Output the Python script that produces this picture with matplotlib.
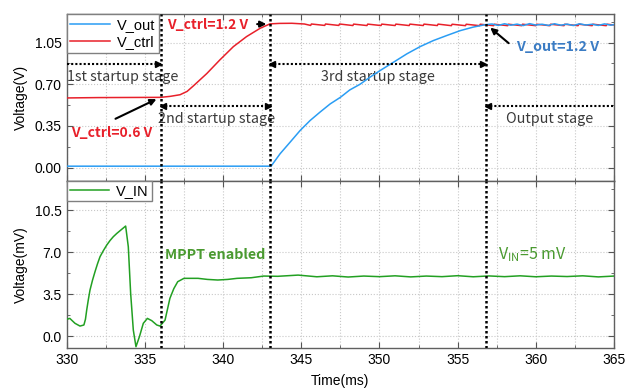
import numpy as np
import matplotlib
matplotlib.use("Agg")
import matplotlib.pyplot as plt
from matplotlib.ticker import MultipleLocator, FormatStrFormatter

plt.rcParams['font.family'] = ['Liberation Sans', 'DejaVu Sans']

## data ##
t_ctrl = [330.0, 332.0, 334.0, 336.0, 336.6, 337.25, 337.7, 338.1, 338.96, 339.8, 340.66,
          341.5, 342.37, 343.0, 343.6, 344.4, 345.2, 345.6,
          345.65, 346.5, 346.55, 347.4, 347.45, 348.3, 348.35, 349.2, 349.25, 350.1,
          350.15, 351.0, 351.05, 351.9, 351.95, 352.8, 352.85, 353.7, 353.75, 354.6,
          354.65, 355.5, 355.55, 356.4, 356.45, 357.3, 357.35, 358.2, 358.25, 359.1,
          359.15, 360.0, 360.05, 360.9, 360.95, 361.8, 361.85, 362.7, 362.75, 363.6,
          363.65, 364.5, 364.55, 365.0]
v_ctrl = [0.585, 0.588, 0.589, 0.590, 0.598, 0.612, 0.640, 0.686, 0.790, 0.905, 1.016,
          1.100, 1.170, 1.207, 1.211, 1.212, 1.206, 1.194,
          1.206, 1.194, 1.206, 1.194, 1.206, 1.193, 1.205, 1.193, 1.205, 1.193,
          1.205, 1.193, 1.205, 1.193, 1.205, 1.193, 1.205, 1.193, 1.205, 1.192,
          1.204, 1.192, 1.204, 1.192, 1.204, 1.192, 1.204, 1.192, 1.204, 1.192,
          1.204, 1.192, 1.204, 1.192, 1.204, 1.192, 1.204, 1.192, 1.204, 1.192,
          1.204, 1.192, 1.204, 1.198]

t_out = [330.0, 343.07, 343.65, 344.29, 344.93, 345.57, 346.2, 346.85, 347.5, 348.1,
         348.76, 349.4, 350.04, 350.9, 351.75, 352.6, 353.45, 354.3, 355.16, 356.0,
         356.76, 357.2, 357.6, 358.0, 358.4, 358.8, 359.2, 359.6, 360.0, 360.4,
         360.8, 361.2, 361.6, 362.0, 362.4, 362.8, 363.2, 363.6, 364.0, 364.4,
         364.8, 365.0]
v_out = [0.012, 0.012, 0.117, 0.214, 0.312, 0.396, 0.466, 0.535, 0.590, 0.652,
         0.700, 0.760, 0.815, 0.885, 0.955, 1.016, 1.067, 1.109, 1.150, 1.180,
         1.200, 1.206, 1.194, 1.208, 1.196, 1.205, 1.193, 1.209, 1.197, 1.204,
         1.194, 1.208, 1.196, 1.205, 1.193, 1.208, 1.197, 1.204, 1.194, 1.207,
         1.196, 1.201]

t_in = [330.0, 330.2, 330.53, 330.85, 331.1, 331.2, 331.28, 331.38, 331.49, 331.65,
        331.81, 331.97, 332.13, 332.35, 332.56, 332.77, 332.98, 333.2, 333.41, 333.77,
        333.94, 334.09, 334.26, 334.43, 334.65, 334.9, 335.16, 335.44, 335.76, 335.97,
        336.29, 336.6, 336.85, 337.1, 337.5, 338.4, 339.0, 339.66,
        340.3, 340.9, 341.8, 342.6, 343.5, 344.8, 346.0, 347.0, 348.0, 349.0,
        350.0, 351.0, 352.0, 353.0, 354.0, 355.0, 356.0, 357.0, 358.0, 359.0,
        360.0, 361.0, 362.0, 363.0, 364.0, 365.0]
v_in = [1.39, 1.47, 1.06, 0.83, 0.92, 1.40, 2.17, 3.00, 3.83, 4.65,
        5.36, 6.02, 6.61, 7.13, 7.58, 7.96, 8.28, 8.55, 8.78, 9.17,
        7.44, 3.56, 0.50, -0.89, -0.06, 1.06, 1.47, 1.28, 0.92, 0.83,
        1.33, 3.14, 3.95, 4.53, 4.81, 4.81, 4.72, 4.67,
        4.72, 4.81, 4.86, 5.00, 4.98, 5.08, 4.94, 5.02, 4.92, 5.00,
        4.95, 5.02, 4.93, 5.00, 4.95, 5.03, 4.94, 5.01, 4.95, 5.02,
        4.94, 5.00, 4.96, 5.02, 4.93, 5.00]

stage_t = [336.0, 343.0, 356.8]

c_out = '#2a9df4'
c_ctrl = '#e8202a'
c_in = '#22a022'
c_txt_green = '#4a9a30'
c_txt_blue = '#3b7cc4'
c_stage = '#3a3a3a'
cjk = ['Noto Sans CJK SC', 'DejaVu Sans']

fig = plt.figure(figsize=(6.28, 3.92), dpi=100)
ax1 = fig.add_axes([0.1062, 0.539, 0.8715, 0.4253])
ax2 = fig.add_axes([0.1062, 0.1122, 0.8715, 0.4268], sharex=ax1)

ax1.plot(t_ctrl, v_ctrl, color=c_ctrl, lw=1.1, label='V_ctrl', zorder=3)
ax1.plot(t_out, v_out, color=c_out, lw=1.1, label='V_out', zorder=4)
ax2.plot(t_in, v_in, color=c_in, lw=1.1, label='V_IN', zorder=3)

for ax in (ax1, ax2):
    for t in stage_t:
        ax.axvline(t, color='black', ls=(0, (1, 1)), lw=1.8, zorder=5)
    ax.set_xlim(330, 365)
    ax.xaxis.set_major_locator(MultipleLocator(5))
    ax.xaxis.set_minor_locator(MultipleLocator(2.5))
    ax.tick_params(which='both', direction='in', top=True, right=True, labelsize=10,
                   color='#555555')
    ax.tick_params(which='major', length=4)
    ax.tick_params(which='minor', length=2.5)
    ax.grid(True, which='major', axis='y', ls=':', color='#c8c8c8', lw=0.8)
    ax.grid(True, which='both', axis='x', ls=':', color='#c8c8c8', lw=0.8)
    for s in ax.spines.values():
        s.set_color('#606060')
        s.set_linewidth(1.0)

ax1.set_ylim(-0.11, 1.29)
ax1.yaxis.set_major_locator(MultipleLocator(0.35))
ax1.yaxis.set_minor_locator(MultipleLocator(0.175))
ax1.yaxis.set_major_formatter(FormatStrFormatter('%.2f'))
ax1.tick_params(labelbottom=False)
ax1.set_ylabel('Voltage(V)', fontsize=10, labelpad=5)

ax2.set_ylim(-1.0, 12.95)
ax2.yaxis.set_major_locator(MultipleLocator(3.5))
ax2.yaxis.set_minor_locator(MultipleLocator(1.75))
ax2.yaxis.set_major_formatter(FormatStrFormatter('%.1f'))
ax2.set_ylabel('Voltage(mV)', fontsize=10, labelpad=5)
ax2.set_xlabel('Time(ms)', fontsize=10, labelpad=5)

h, l = ax1.get_legend_handles_labels()
ax1.legend(h[::-1], l[::-1], loc='upper left', borderaxespad=0, fancybox=False,
           edgecolor='#808080', framealpha=1, fontsize=10.5, handlelength=2.7,
           borderpad=0.25, labelspacing=0.25, handletextpad=0.5)
ax2.legend(loc='upper left', borderaxespad=0, fancybox=False, edgecolor='#808080',
           framealpha=1, fontsize=10.5, handlelength=2.7, borderpad=0.2,
           handletextpad=0.5)

# stage arrows (dotted line + triangle head)
def stage_arrow(ax, x0, x1, y, left_head, right_head):
    ax.plot([x0, x1], [y, y], color='black', ls=(0, (1, 1)), lw=1.5, zorder=6)
    if left_head:
        ax.plot(x0 + 0.15, y, marker='<', color='black', ms=4, zorder=6)
    if right_head:
        ax.plot(x1 - 0.15, y, marker='>', color='black', ms=4, zorder=6)

stage_arrow(ax1, 330, stage_t[0], 0.87, False, True)
stage_arrow(ax1, stage_t[0], stage_t[1], 0.52, True, True)
stage_arrow(ax1, stage_t[1], stage_t[2], 0.87, True, True)
stage_arrow(ax1, stage_t[2], 365, 0.52, True, False)

ax1.text(330.05, 0.76, '1st startup stage', fontsize=10.3, color=c_stage, family=cjk,
         ha='left', va='center')
ax1.text(335.85, 0.41, '2nd startup stage', fontsize=10.3, color=c_stage, family=cjk,
         ha='left', va='center')
ax1.text(349.9, 0.76, '3rd startup stage', fontsize=10.3, color=c_stage, family=cjk,
         ha='center', va='center')
ax1.text(360.9, 0.41, 'Output stage', fontsize=10.3, color=c_stage, family=cjk,
         ha='center', va='center')

ax1.text(336.45, 1.20, 'V_ctrl=1.2 V', fontsize=10, color=c_ctrl, fontweight='bold',
         family=cjk, ha='left', va='center', zorder=7)
ax1.annotate('', xy=(342.95, 1.205), xytext=(342.0, 1.205),
             arrowprops=dict(arrowstyle='-|>', color='black', lw=1.5, mutation_scale=9))
ax1.text(330.25, 0.29, 'V_ctrl=0.6 V', fontsize=10, color=c_ctrl, fontweight='bold',
         family=cjk, ha='left', va='center', zorder=7)
ax1.annotate('', xy=(335.9, 0.585), xytext=(332.96, 0.40),
             arrowprops=dict(arrowstyle='-|>', color='black', lw=1.5, mutation_scale=9))
ax1.text(358.75, 1.016, 'V_out=1.2 V', fontsize=10.3, color=c_txt_blue, fontweight='bold',
         family=cjk, ha='left', va='center', zorder=7)
ax1.annotate('', xy=(356.95, 1.19), xytext=(358.4, 1.03),
             arrowprops=dict(arrowstyle='-|>', color='black', lw=1.5, mutation_scale=9))

ax2.text(336.3, 6.75, 'MPPT enabled', fontsize=10.3, color=c_txt_green, fontweight='bold',
         family=cjk, ha='left', va='center', zorder=7)
ax2.text(357.6, 6.75, r'V$_{\mathregular{IN}}$=5 mV', fontsize=11.5, color=c_txt_green,
         family=cjk, ha='left', va='center', zorder=7)

fig.savefig('out.png', dpi=100)
